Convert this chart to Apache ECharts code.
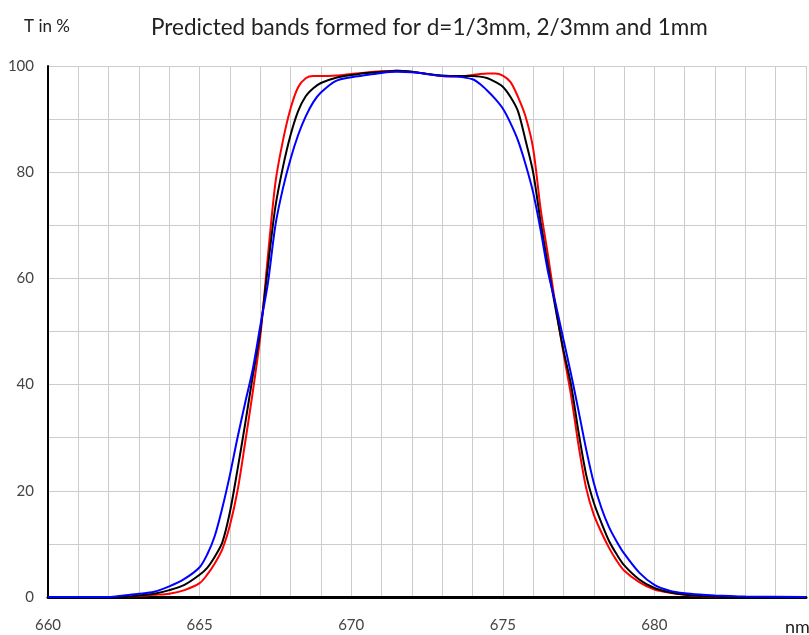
<!DOCTYPE html>
<html>
<head>
<meta charset="utf-8">
<title>Predicted bands</title>
<script src="https://cdn.jsdelivr.net/npm/echarts@6/dist/echarts.min.js"></script>
<style>
  html, body { margin: 0; padding: 0; background: #fff; }
  #chart { width: 809px; height: 635px; }
</style>
</head>
<body>
<div id="chart"></div>
<script>
// wavelength in nm, shared by the three curves
var wavelength = [660, 662, 662.5, 663, 663.5, 664, 664.5, 665, 665.25, 665.5, 665.75,
    666, 666.25, 666.5, 666.75, 667, 667.25, 667.5, 667.75, 668, 668.25, 668.5, 668.75,
    669, 669.5, 670, 670.5, 671, 671.5, 672, 672.5, 673, 673.5, 674, 674.25, 674.5, 674.75,
    675, 675.25, 675.5, 675.75, 676, 676.25, 676.5, 676.75, 677, 677.25, 677.5, 677.75,
    678, 678.25, 678.5, 678.75, 679, 679.5, 680, 680.5, 681, 681.5, 682, 682.5, 683, 685];

// transmission in %, d = 1mm (red)
var t_red = [0, 0, 0, 0.2, 0.4, 0.6, 1.3, 2.6, 4.2, 6.3, 9,
    13.5, 20, 29, 38.5, 49, 64, 78, 86, 92, 96, 97.7, 98.1,
    98.1, 98.2, 98.5, 98.8, 99.0, 99.1, 98.9, 98.5, 98.1, 98.0, 98.3, 98.5, 98.6, 98.6,
    98.2, 97.0, 94.2, 90.5, 84.5, 73, 64, 54.5, 46, 38, 28.5, 20.5,
    15.5, 12.2, 9.3, 6.9, 5.0, 2.8, 1.4, 0.8, 0.4, 0.15, 0, 0, 0, 0];

// d = 2/3mm (black)
var t_black = [0, 0, 0, 0.3, 0.6, 1.3, 2.3, 4.2, 5.5, 7.6, 10.3,
    16, 24, 32.5, 41.5, 50, 62, 73.5, 81, 87, 91.5, 94.3, 95.8,
    96.8, 97.8, 98.3, 98.7, 98.9, 99.1, 98.9, 98.5, 98.2, 98.1, 98.1, 98.0, 97.7, 97.0,
    96.1, 94.2, 91.5, 86, 80, 70.5, 62, 54, 46.5, 40, 31, 23,
    17.8, 14, 10.6, 8.1, 6.0, 3.3, 1.7, 0.9, 0.45, 0.2, 0.05, 0, 0, 0];

// d = 1/3mm (blue)
var t_blue = [0, 0, 0.3, 0.6, 1.0, 2.0, 3.4, 5.6, 8.0, 11.5, 16.8,
    23, 30, 36.5, 42.8, 51, 59, 70, 77, 82.5, 87, 90.5, 93.2,
    95, 97.2, 97.9, 98.3, 98.7, 98.9, 98.8, 98.5, 98.1, 98.0, 97.5, 96.6, 95.3, 93.8,
    92, 89.3, 86, 81.5, 76.2, 69, 61, 55, 48.5, 42, 35, 27.8,
    21.5, 16.8, 13.2, 10.5, 8.2, 4.6, 2.3, 1.2, 0.7, 0.45, 0.3, 0.2, 0.1, 0];

function pairs(xs, ys) {
    var out = [];
    for (var i = 0; i < xs.length; i++) {
        out.push([xs[i], ys[i]]);
    }
    return out;
}

var font = 'Lato, "Open Sans", sans-serif';
var gridLine = { show: true, lineStyle: { color: '#cccccc', width: 1 } };

var myChart = echarts.init(document.getElementById('chart'));
var option = {
    animation: false,
    title: [
        {
            text: 'Predicted bands formed for d=1/3mm, 2/3mm and 1mm',
            left: 146,
            top: 11,
            textStyle: { fontFamily: font, fontSize: 22.5, fontWeight: 'normal', color: '#222' }
        },
        {
            text: 'T in %',
            left: 19,
            top: 13,
            textStyle: { fontFamily: font, fontSize: 17, fontWeight: 'normal', color: '#222' }
        },
        {
            text: 'nm',
            left: 780,
            top: 613,
            textStyle: { fontFamily: font, fontSize: 18, fontWeight: 'normal', color: '#222' }
        }
    ],
    grid: { left: 48, right: 1, top: 66, bottom: 38 },
    xAxis: {
        type: 'value',
        min: 660,
        max: 685,
        interval: 1,
        axisLine: { show: true, onZero: false, lineStyle: { color: '#000', width: 3 } },
        axisTick: { show: false },
        splitLine: gridLine,
        axisLabel: {
            margin: 21,
            color: '#444',
            fontFamily: font,
            fontSize: 15,
            formatter: function (v) { return (v % 5 === 0 && v < 685) ? String(v) : ''; }
        }
    },
    yAxis: {
        type: 'value',
        min: 0,
        max: 100,
        interval: 10,
        axisLine: { show: true, lineStyle: { color: '#000', width: 2 } },
        axisTick: { show: false },
        splitLine: gridLine,
        axisLabel: {
            margin: 14,
            color: '#444',
            fontFamily: font,
            fontSize: 15,
            formatter: function (v) { return v % 20 === 0 ? String(v) : ''; }
        }
    },
    series: [
        { name: '1mm', type: 'line', data: pairs(wavelength, t_red), showSymbol: false, smooth: 0.3,
          lineStyle: { color: '#ff0000', width: 2 } },
        { name: '2/3mm', type: 'line', data: pairs(wavelength, t_black), showSymbol: false, smooth: 0.3,
          lineStyle: { color: '#000000', width: 2 } },
        { name: '1/3mm', type: 'line', data: pairs(wavelength, t_blue), showSymbol: false, smooth: 0.3,
          lineStyle: { color: '#0000ff', width: 2 } }
    ]
};
myChart.setOption(option);
</script>
</body>
</html>
